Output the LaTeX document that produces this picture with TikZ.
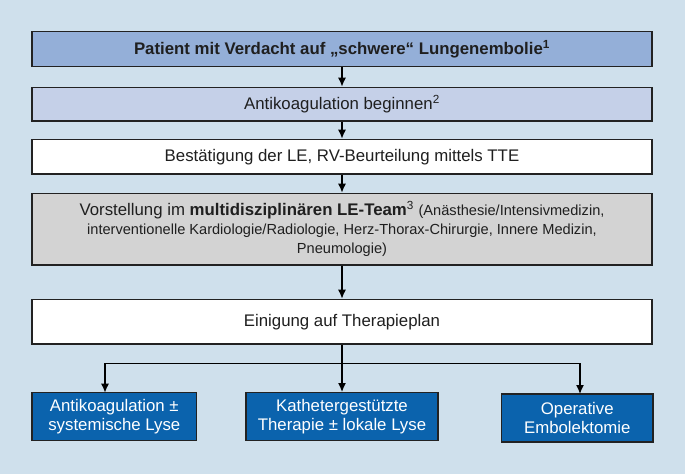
\documentclass[tikz,border=0pt]{standalone}
\usepackage{fontspec}
\setmainfont{Liberation Sans}
\usetikzlibrary{arrows.meta}
\definecolor{bg}{HTML}{CFE0EC}
\definecolor{topblue}{HTML}{94AFD8}
\definecolor{lightblue}{HTML}{C5D0E8}
\definecolor{grayfill}{HTML}{D3D3D3}
\definecolor{darkblue}{HTML}{0B63AD}
\definecolor{edge}{HTML}{222222}
\newcommand{\smallpar}{\fontsize{14.6}{19}\selectfont}
\begin{document}
\begin{tikzpicture}[x=1pt,y=-1pt,
  box/.style={draw=edge,line width=1.3pt,rectangle,inner sep=0pt,align=center,font=\fontsize{16.8}{19}\selectfont,text=black!88},
  botbox/.style={box,fill=darkblue,text=white},
  arr/.style={-{Latex[length=9pt,width=8pt]},line width=1.4pt,black}]
\fill[bg] (0,0) rectangle (685,474);
\useasboundingbox (0,0) rectangle (685,474);
\node[box,fill=topblue,minimum width=620pt,minimum height=35pt] (p) at (342,49.2) {\textbf{Patient mit Verdacht auf „schwere“ Lungenembolie\textsuperscript{1}}};
\node[box,fill=lightblue,minimum width=620pt,minimum height=33.7pt] (a) at (342,104.2) {Antikoagulation beginnen\textsuperscript{2}};
\node[box,fill=white,minimum width=620pt,minimum height=34.7pt] (b) at (342,156.7) {Bestätigung der LE, RV-Beurteilung mittels TTE};
\node[box,fill=grayfill,minimum width=620pt,minimum height=71.7pt] (v) at (342,229.2) {Vorstellung im \textbf{multidisziplinären LE-Team}\textsuperscript{3} {\smallpar(Anästhesie/Intensivmedizin,}\\ {\smallpar interventionelle Kardiologie/Radiologie, Herz-Thorax-Chirurgie, Innere Medizin,}\\ {\smallpar Pneumologie)}};
\node[box,fill=white,minimum width=620pt,minimum height=44.7pt] (e) at (342,321.7) {Einigung auf Therapieplan};
\node[botbox,minimum width=164.6pt,minimum height=48pt] (t1) at (114.3,416.7) {Antikoagulation ±\\systemische Lyse};
\node[botbox,minimum width=192pt,minimum height=48pt] (t2) at (342,416.7) {Kathetergestützte\\Therapie ± lokale Lyse};
\node[botbox,minimum width=151.5pt,minimum height=48pt] (t3) at (577.3,418) {Operative\\Embolektomie};
\draw[arr] (p) -- (a);
\draw[arr] (a) -- (b);
\draw[arr] (b) -- (v);
\draw[arr] (v) -- (e);
\coordinate (j) at (342,363.3);
\draw[line width=1.4pt] (e.south) -- (j);
\draw[arr] (j) -| (105,392.7);
\draw[arr] (j) -| (580,394);
\draw[arr] (j) -- (t2.north);
\end{tikzpicture}
\end{document}
